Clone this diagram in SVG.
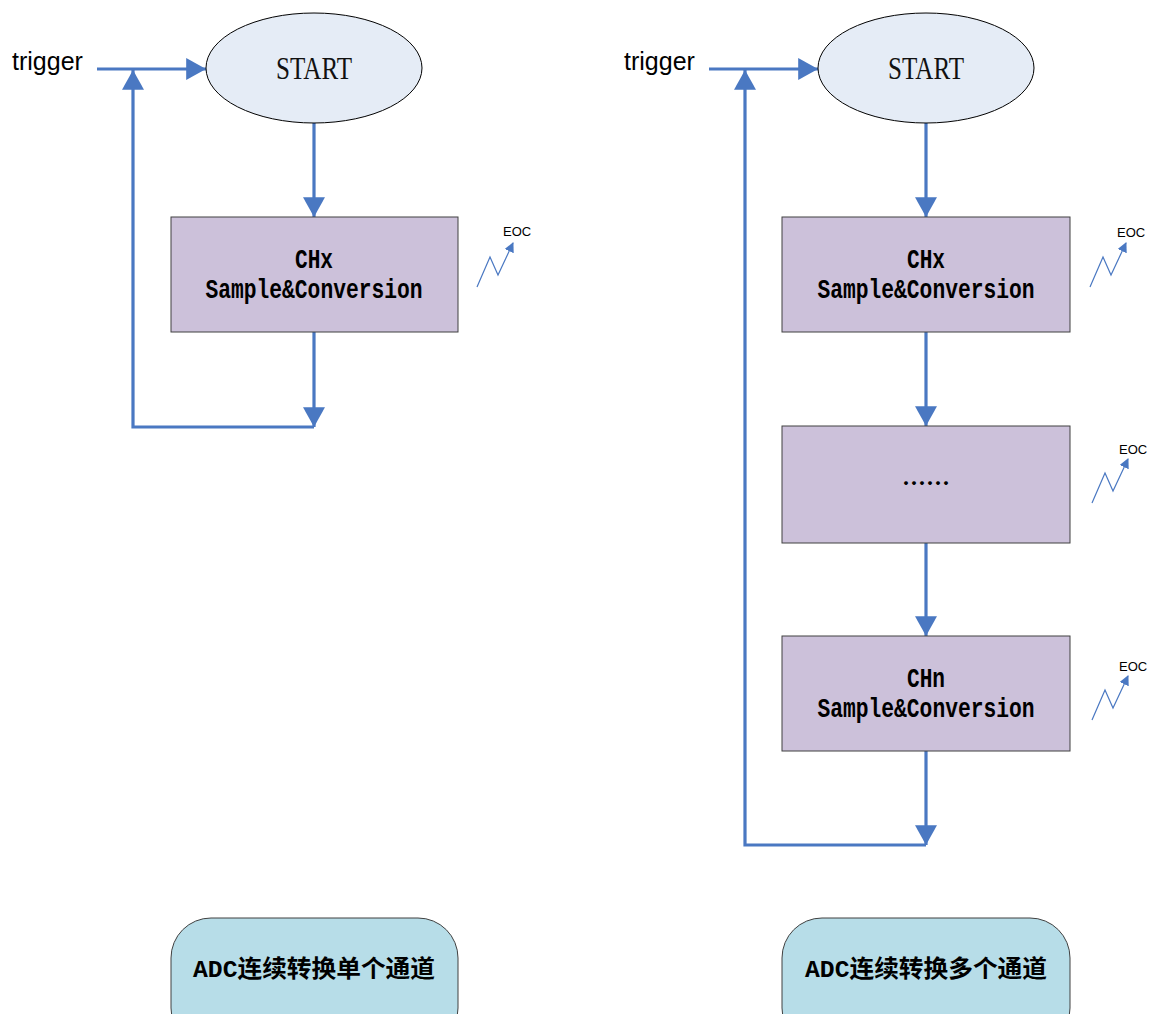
<svg xmlns="http://www.w3.org/2000/svg" width="1154" height="1014" viewBox="0 0 1154 1014">
<style>
.conn{stroke:#4a78c2;stroke-width:3.2;fill:none}
.eoc{stroke:#4a78c2;stroke-width:1.2;fill:none}
.box{fill:#ccc1da;stroke:#404040;stroke-width:1}
.ell{fill:#e5ecf6;stroke:#000;stroke-width:1}
.rr{fill:#b7dde8;stroke:#404040;stroke-width:1}
.mono{font-family:"Liberation Mono","Noto Sans CJK SC",monospace;font-size:27px;font-weight:bold;fill:#000;text-anchor:middle}
.dots{font-family:"Noto Sans CJK SC",sans-serif;font-size:24px;font-weight:bold;fill:#000;text-anchor:middle}
.start{font-family:"Liberation Serif",serif;font-size:31px;fill:#111;text-anchor:middle}
.trig{font-family:"Liberation Sans",Arial,sans-serif;font-size:25px;fill:#000}
.eoct{font-family:"Liberation Sans",Arial,sans-serif;font-size:13px;fill:#000}
.lbl{font-family:"Liberation Mono","Noto Sans CJK SC",monospace;font-size:24px;font-weight:bold;fill:#000;text-anchor:middle}
</style>
<defs>
<marker id="ah" markerUnits="userSpaceOnUse" markerWidth="22" markerHeight="22" viewBox="0 0 20 20" refX="18" refY="10" orient="auto">
<path d="M0,0 L18,10 L0,20 z" fill="#4a78c2"/>
</marker>
<marker id="as" markerUnits="userSpaceOnUse" markerWidth="10" markerHeight="10" viewBox="0 0 10 10" refX="9" refY="5" orient="auto">
<path d="M0,0 L10,5 L0,10 z" fill="#4a78c2"/>
</marker>
</defs>

<g id="connectors">
<line class="conn" x1="97" y1="69" x2="206" y2="69" marker-end="url(#ah)"/>
<polyline class="conn" points="314,427 133,427 133,70" marker-end="url(#ah)"/>
<line class="conn" x1="314" y1="123" x2="314" y2="217" marker-end="url(#ah)"/>
<line class="conn" x1="314" y1="332" x2="314" y2="427" marker-end="url(#ah)"/>
<line class="conn" x1="709" y1="69" x2="818" y2="69" marker-end="url(#ah)"/>
<polyline class="conn" points="926,845 745,845 745,70" marker-end="url(#ah)"/>
<line class="conn" x1="926" y1="123" x2="926" y2="217" marker-end="url(#ah)"/>
<line class="conn" x1="926" y1="332" x2="926" y2="426" marker-end="url(#ah)"/>
<line class="conn" x1="926" y1="543" x2="926" y2="636" marker-end="url(#ah)"/>
<line class="conn" x1="926" y1="751" x2="926" y2="845" marker-end="url(#ah)"/>
</g>

<g id="trigger-left"><text class="trig" x="12" y="70">trigger</text></g>
<g id="trigger-right"><text class="trig" x="624" y="70">trigger</text></g>

<g id="start-left">
<ellipse class="ell" cx="314" cy="68" rx="108" ry="55"/>
<text class="start" x="314" y="79" textLength="76" lengthAdjust="spacingAndGlyphs">START</text>
</g>
<g id="start-right">
<ellipse class="ell" cx="926" cy="68" rx="108" ry="55"/>
<text class="start" x="926" y="79" textLength="76" lengthAdjust="spacingAndGlyphs">START</text>
</g>

<g id="chx-left">
<rect class="box" x="171" y="217" width="287" height="115"/>
<text class="mono" x="314" y="268" textLength="38" lengthAdjust="spacingAndGlyphs">CHx</text>
<text class="mono" x="314" y="298" textLength="217" lengthAdjust="spacingAndGlyphs">Sample&amp;Conversion</text>
</g>
<g id="eoc-left">
<polyline class="eoc" points="477,287 490,257 498,275 513,243" marker-end="url(#as)"/>
<text class="eoct" x="503" y="236">EOC</text>
</g>

<g id="chx-right">
<rect class="box" x="782" y="217" width="288" height="115"/>
<text class="mono" x="926" y="268" textLength="38" lengthAdjust="spacingAndGlyphs">CHx</text>
<text class="mono" x="926" y="298" textLength="217" lengthAdjust="spacingAndGlyphs">Sample&amp;Conversion</text>
</g>
<g id="eoc-right-1">
<polyline class="eoc" points="1090,287 1103,257 1111,275 1126,243" marker-end="url(#as)"/>
<text class="eoct" x="1117" y="237">EOC</text>
</g>

<g id="dots-right">
<rect class="box" x="782" y="426" width="288" height="117"/>
<text class="dots" x="926" y="492" textLength="48" lengthAdjust="spacingAndGlyphs">……</text>
</g>
<g id="eoc-right-2">
<polyline class="eoc" points="1092,503 1105,473 1113,491 1128,459" marker-end="url(#as)"/>
<text class="eoct" x="1119" y="454">EOC</text>
</g>

<g id="chn-right">
<rect class="box" x="782" y="636" width="288" height="115"/>
<text class="mono" x="926" y="687" textLength="38" lengthAdjust="spacingAndGlyphs">CHn</text>
<text class="mono" x="926" y="717" textLength="217" lengthAdjust="spacingAndGlyphs">Sample&amp;Conversion</text>
</g>
<g id="eoc-right-3">
<polyline class="eoc" points="1092,720 1105,690 1113,708 1128,676" marker-end="url(#as)"/>
<text class="eoct" x="1119" y="671">EOC</text>
</g>

<g id="label-left">
<rect class="rr" x="171" y="918" width="287" height="130" rx="40" ry="40"/>
<text class="lbl" x="314" y="977" textLength="242" lengthAdjust="spacingAndGlyphs">ADC连续转换单个通道</text>
</g>
<g id="label-right">
<rect class="rr" x="782" y="918" width="288" height="130" rx="40" ry="40"/>
<text class="lbl" x="926" y="977" textLength="242" lengthAdjust="spacingAndGlyphs">ADC连续转换多个通道</text>
</g>
</svg>
